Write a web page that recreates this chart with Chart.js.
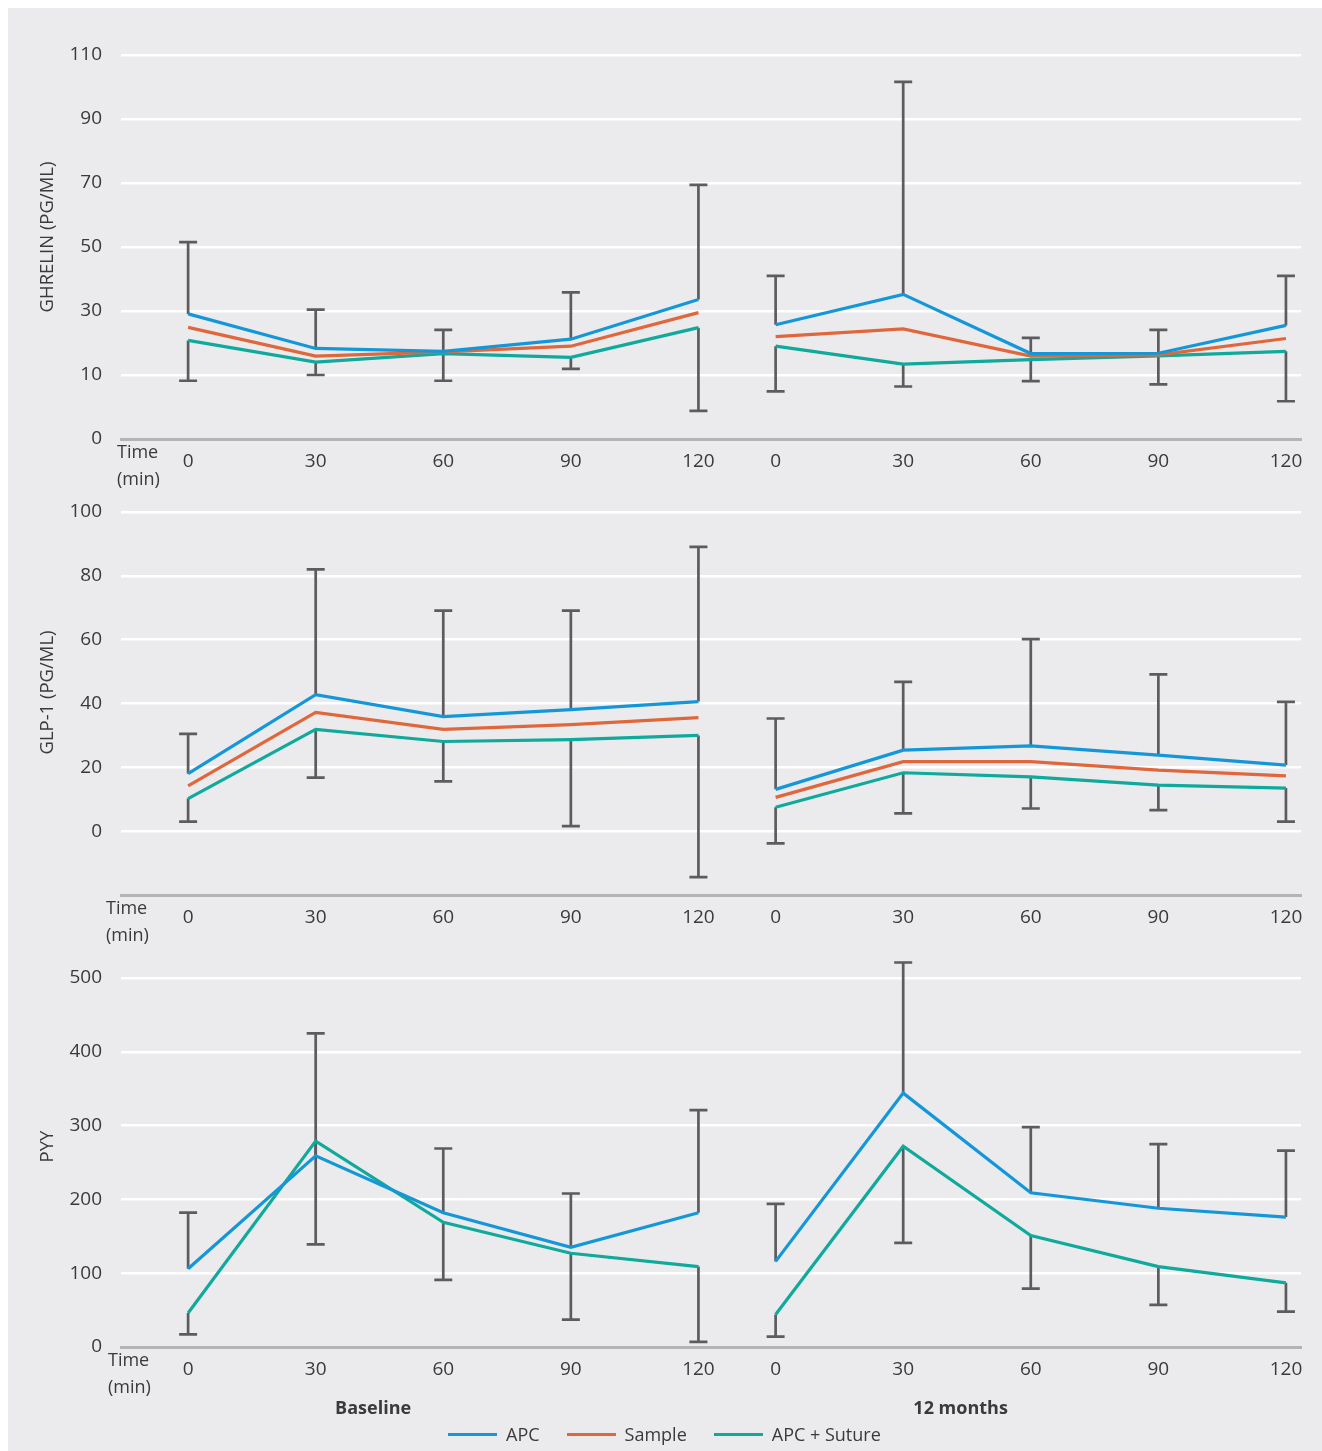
<!DOCTYPE html>
<html>
<head>
<meta charset="utf-8">
<script src="https://cdn.jsdelivr.net/npm/chart.js@4.4.1/dist/chart.umd.min.js"></script>
<style>
    body {
        margin: 0;
        width: 1322px;
        height: 1451px;
        position: relative;
        overflow: hidden;
        background: #ffffff;
        font-family: "Open Sans", sans-serif;
    }
    #panel {
        position: absolute;
        left: 8px;
        top: 8px;
        width: 1314px;
        height: 1443px;
        background: #ebebed;
    }
    canvas {
        position: absolute;
        left: 0;
    }
    #legend {
        position: absolute;
        left: 448px;
        top: 1421px;
        display: flex;
        align-items: center;
        font-size: 18px;
        line-height: 26px;
        color: #3a3a3a;
    }
    #legend .item {
        display: flex;
        align-items: center;
        margin-right: 27px;
    }
    #legend .swatch {
        display: inline-block;
        width: 49px;
        height: 3px;
        margin-right: 9px;
    }
</style>
</head>
<body>
<div id="panel"></div>
<canvas id="ghrelin" width="1322" height="495" style="top:0;width:1322px;height:495px"></canvas>
<canvas id="glp1" width="1322" height="465" style="top:480px;width:1322px;height:465px"></canvas>
<canvas id="pyy" width="1322" height="506" style="top:945px;width:1322px;height:506px"></canvas>
<div id="legend"></div>

<script>
// Data
const timeLabels = ["0", "30", "60", "90", "120"];
const periodLabels = ["Baseline", "12 months"];
const seriesNames = ["APC", "Sample", "APC + Suture"];

// first 5 values = baseline, last 5 = 12 months
const ghrelinApc    = [29.1, 18.3, 17.4, 21.2, 33.6, 25.7, 35.2, 16.7, 16.8, 25.5];
const ghrelinSample = [24.9, 15.9, 17.2, 19.0, 29.5, 22.0, 24.4, 15.9, 16.3, 21.4];
const ghrelinSuture = [20.8, 14.0, 16.7, 15.5, 24.8, 19.0, 13.4, 14.8, 16.0, 17.4];
const ghrelinUpper  = [51.5, 30.4, 24.1, 35.8, 69.4, 41.0, 101.6, 21.6, 24.1, 41.0];
const ghrelinLower  = [8.2, 10.0, 8.2, 11.9, -1.2, 4.9, 6.4, 8.1, 7.1, 1.8];

const glp1Apc    = [18.0, 42.8, 35.9, 38.1, 40.6, 13.1, 25.4, 26.7, 23.8, 20.7];
const glp1Sample = [14.2, 37.2, 31.9, 33.4, 35.6, 10.6, 21.8, 21.8, 19.1, 17.3];
const glp1Suture = [10.2, 31.9, 28.1, 28.7, 30.0, 7.5, 18.3, 17.0, 14.4, 13.5];
const glp1Upper  = [30.5, 82.0, 69.1, 69.1, 89.1, 35.3, 46.8, 60.2, 49.1, 40.5];
const glp1Lower  = [3.0, 16.8, 15.6, 1.6, -14.4, -3.8, 5.6, 7.1, 6.6, 3.0];

const pyyApc    = [106, 259, 182, 135, 182, 116, 344, 209, 188, 176];
const pyySuture = [46, 279, 169, 127, 109, 44, 272, 151, 109, 87];
const pyyUpper  = [182, 425, 269, 208, 321, 194, 521, 298, 275, 266];
const pyyLower  = [17, 139, 91, 37, 7, 14, 141, 79, 57, 48];

// Style
const colors = ["#1497d9", "#e0673b", "#0faa9b"];
const errorColor = "#5c5c5f";
const textColor = "#3a3a3a";
const fontFamily = "'Open Sans', sans-serif";
const groupOffset = 4.605;
const xMin = -0.526;
const xMax = 8.723;

// Function
const xPos = (i) => (i % 5) + Math.floor(i / 5) * groupOffset;
const tickPositions = timeLabels.concat(timeLabels).map((t, i) => xPos(i));

const toPoints = (values) => {
    let points = values.map((v, i) => ({x: xPos(i), y: v}));
    points.splice(5, 0, {x: 4.3, y: null});
    return points;
}

const lineDataset = (label, values, color) => ({
    label: label,
    data: toPoints(values),
    borderColor: color,
    backgroundColor: color,
    borderWidth: 3.2,
    pointRadius: 0,
    tension: 0,
    spanGaps: false,
    fill: false
});

const errorBarPlugin = (upperFrom, upper, lowerFrom, lower) => ({
    id: "errorBars",
    beforeDatasetsDraw(chart) {
        const {ctx, scales: {x, y}} = chart;
        const cap = 9;
        const whisker = (px, from, to) => {
            let y0 = y.getPixelForValue(from);
            let y1 = y.getPixelForValue(to);
            ctx.beginPath();
            ctx.moveTo(px, y0);
            ctx.lineTo(px, y1);
            ctx.moveTo(px - cap, y1);
            ctx.lineTo(px + cap, y1);
            ctx.stroke();
        }
        ctx.save();
        ctx.strokeStyle = errorColor;
        ctx.lineWidth = 2.7;
        ctx.lineCap = "butt";
        upper.forEach((v, i) => {
            let px = x.getPixelForValue(xPos(i));
            whisker(px, upperFrom[i], v);
            whisker(px, lowerFrom[i], lower[i]);
        });
        ctx.restore();
    }
});

const labelPlugin = (title, titleShift, timeX, showPeriods) => ({
    id: "rowLabels",
    afterDraw(chart) {
        const {ctx, chartArea, scales: {x}} = chart;
        ctx.save();
        ctx.fillStyle = textColor;
        // y axis title
        ctx.font = "18.5px " + fontFamily;
        ctx.textAlign = "center";
        ctx.textBaseline = "middle";
        ctx.translate(48, (chartArea.top + chartArea.bottom) / 2 - titleShift);
        ctx.rotate(-Math.PI / 2);
        ctx.fillText(title, 0, 0);
        ctx.setTransform(1, 0, 0, 1, 0, 0);
        // Time (min)
        ctx.font = "18px " + fontFamily;
        ctx.textAlign = "left";
        ctx.fillText("Time", timeX, chartArea.bottom + 14);
        ctx.fillText("(min)", timeX, chartArea.bottom + 41);
        // periods
        if (showPeriods) {
            ctx.font = "bold 18px " + fontFamily;
            ctx.textAlign = "center";
            periodLabels.forEach((p, g) => {
                ctx.fillText(p, x.getPixelForValue(g * groupOffset + 1.45), chartArea.bottom + 62);
            });
        }
        ctx.restore();
    }
});

const makeChart = (el, cfg) => {
    return new Chart(el, {
        type: "line",
        data: {datasets: cfg.datasets},
        plugins: [errorBarPlugin(cfg.apc, cfg.upper, cfg.suture, cfg.lower),
                  labelPlugin(cfg.title, cfg.titleShift, cfg.timeX, cfg.showPeriods)],
        options: {
            responsive: false,
            animation: false,
            devicePixelRatio: 1,
            layout: {padding: {left: 0, right: 21, top: cfg.padTop, bottom: 0}},
            plugins: {legend: {display: false}, tooltip: {enabled: false}},
            scales: {
                x: {
                    type: "linear",
                    min: xMin,
                    max: xMax,
                    afterBuildTicks: (scale) => {
                        scale.ticks = tickPositions.map(v => ({value: v}));
                    },
                    afterFit: (scale) => {
                        scale.height = cfg.xHeight;
                    },
                    ticks: {
                        autoSkip: false,
                        maxRotation: 0,
                        padding: 11,
                        color: textColor,
                        font: {family: fontFamily, size: 19},
                        callback: (value, index) => timeLabels[index % 5]
                    },
                    grid: {display: false, drawTicks: false},
                    border: {display: true, color: "#b4b4b6", width: 3}
                },
                y: {
                    min: cfg.min,
                    max: cfg.max,
                    ticks: {
                        stepSize: cfg.step,
                        padding: 19,
                        color: textColor,
                        font: {family: fontFamily, size: 19},
                        callback: cfg.tickLabel
                    },
                    afterFit: (scale) => {
                        scale.width = 121;
                    },
                    grid: {
                        drawTicks: false,
                        lineWidth: 2.5,
                        color: (ctx) => ctx.index === 0 ? "rgba(0,0,0,0)" : "#ffffff"
                    },
                    border: {display: false}
                }
            }
        }
    });
}

// Element
let ghrelinElement = document.querySelector("#ghrelin");
let glp1Element = document.querySelector("#glp1");
let pyyElement = document.querySelector("#pyy");
let legendElement = document.querySelector("#legend");

// Init
makeChart(ghrelinElement, {
    datasets: [
        lineDataset(seriesNames[0], ghrelinApc, colors[0]),
        lineDataset(seriesNames[1], ghrelinSample, colors[1]),
        lineDataset(seriesNames[2], ghrelinSuture, colors[2])
    ],
    apc: ghrelinApc, upper: ghrelinUpper, suture: ghrelinSuture, lower: ghrelinLower,
    title: "GHRELIN (PG/ML)", titleShift: 10, timeX: 117, showPeriods: false,
    padTop: 55, xHeight: 56,
    min: -10, max: 110, step: 20,
    tickLabel: (v) => v === -10 ? "0" : v
});

makeChart(glp1Element, {
    datasets: [
        lineDataset(seriesNames[0], glp1Apc, colors[0]),
        lineDataset(seriesNames[1], glp1Sample, colors[1]),
        lineDataset(seriesNames[2], glp1Suture, colors[2])
    ],
    apc: glp1Apc, upper: glp1Upper, suture: glp1Suture, lower: glp1Lower,
    title: "GLP-1 (PG/ML)", titleShift: 11, timeX: 106, showPeriods: false,
    padTop: 32, xHeight: 50,
    min: -20, max: 100, step: 20,
    tickLabel: (v) => v < 0 ? "" : v
});

makeChart(pyyElement, {
    datasets: [
        lineDataset(seriesNames[0], pyyApc, colors[0]),
        lineDataset(seriesNames[2], pyySuture, colors[2])
    ],
    apc: pyyApc, upper: pyyUpper, suture: pyySuture, lower: pyyLower,
    title: "PYY", titleShift: 16, timeX: 108, showPeriods: true,
    padTop: 33, xHeight: 104,
    min: 0, max: 500, step: 100,
    tickLabel: (v) => v
});

// Legend
seriesNames.forEach((name, i) => {
    let item = document.createElement("span");
    item.className = "item";
    let swatch = document.createElement("span");
    swatch.className = "swatch";
    swatch.style.background = colors[i];
    item.appendChild(swatch);
    item.appendChild(document.createTextNode(name));
    legendElement.appendChild(item);
});
</script>
</body>
</html>
